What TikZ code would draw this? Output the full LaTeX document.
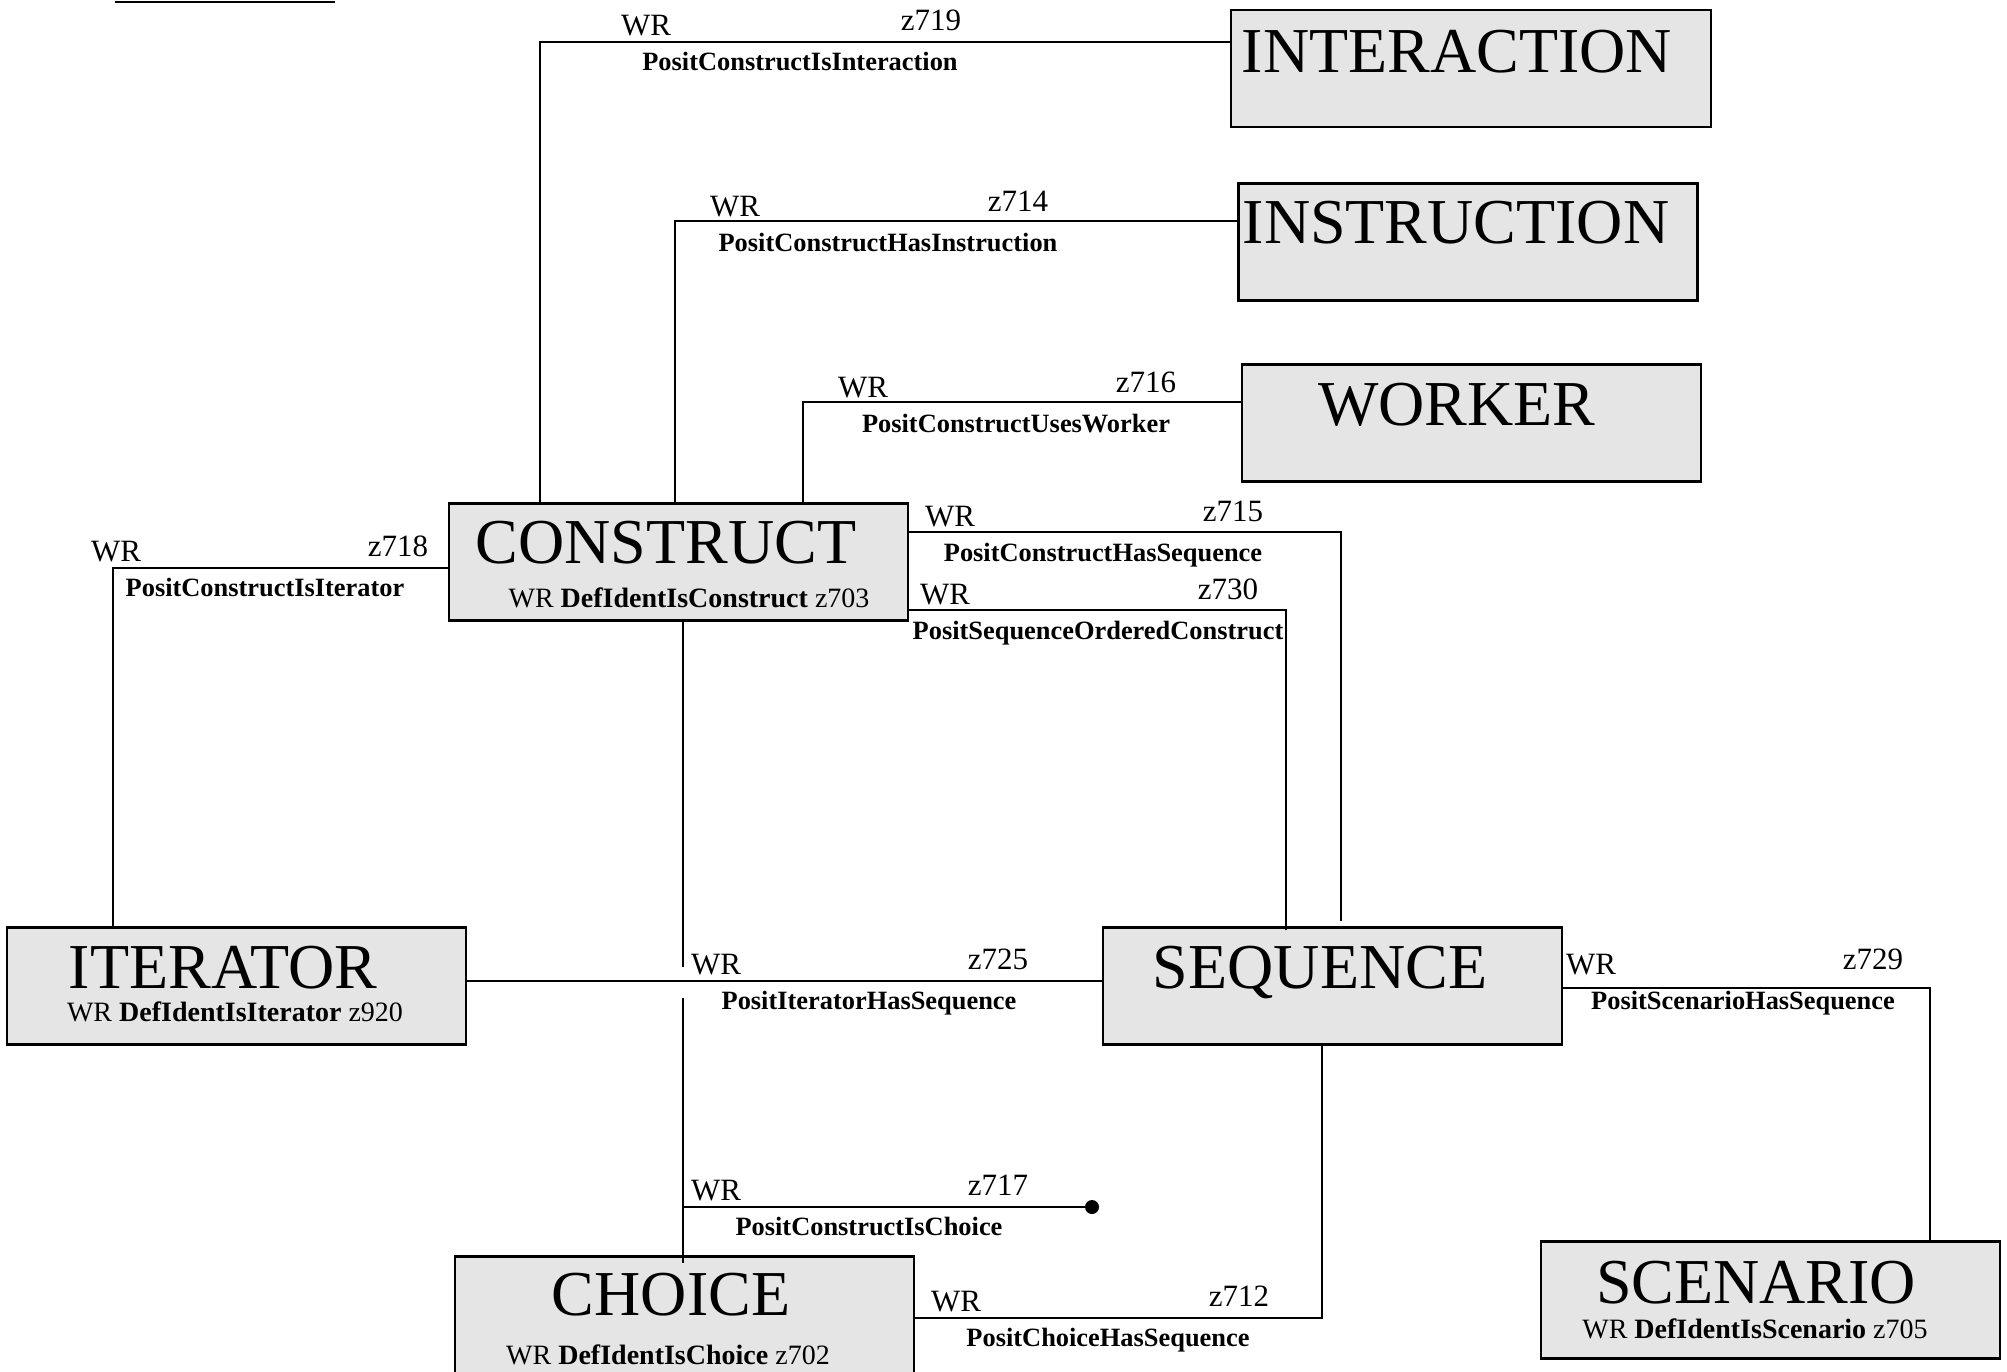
\documentclass[tikz,border=0pt]{standalone}
\usepackage{fontspec}
\setmainfont{Liberation Serif}
\usetikzlibrary{calc}

\tikzset{
  entity/.style={draw, line width=1.2pt, fill=black!10, rectangle,
    minimum width=229.5pt, minimum height=58.5pt, inner sep=0pt},
  bigname/.style={anchor=base, inner sep=0pt, font=\fontsize{32}{36}\selectfont},
  defname/.style={anchor=base, inner sep=0pt, font=\fontsize{14}{16}\selectfont},
  wrlabel/.style={anchor=base, inner sep=0pt, font=\fontsize{15.5}{18}\selectfont},
  factname/.style={anchor=base, inner sep=0pt, font=\bfseries\fontsize{13.2}{15}\selectfont},
  link/.style={line width=1pt},
}

\begin{document}
\begin{tikzpicture}[x=0.5pt, y=-0.5pt]

\useasboundingbox (0,0) rectangle (2007,1371);

% Trait en haut a gauche
\draw[link] (115,2) -- (335,2);

% Entites
\node[entity, minimum width=240pt] (interaction) at (1471,68.5) {};
\node[entity] (instruction) at (1468,242) {};
\node[entity] (worker) at (1471.5,423) {};
\node[entity] (construct) at (678.5,562) {};
\node[entity] (iterator) at (236.5,986) {};
\node[entity] (sequence) at (1332.5,986) {};
\node[entity] (choice) at (684.5,1315) {};
\node[entity] (scenario) at (1770.5,1300) {};

% Noms des entites
\node[bigname] (interactionT) at (1457,72) {INTERACTION};
\node[bigname] (instructionT) at (1456,243) {INSTRUCTION};
\node[bigname] (workerT) at (1457,425) {WORKER};
\node[bigname] (constructT) at (666,563) {CONSTRUCT};
\node[bigname] (iteratorT) at (223,988) {ITERATOR};
\node[bigname] (sequenceT) at (1320,988) {SEQUENCE};
\node[bigname] (choiceT) at (671,1315) {CHOICE};
\node[bigname] (scenarioT) at (1756,1303) {SCENARIO};

\node[defname] (constructD) at (689,607) {WR \textbf{DefIdentIsConstruct} z703};
\node[defname] (iteratorD) at (235,1021) {WR \textbf{DefIdentIsIterator} z920};
\node[defname] (choiceD) at (668,1364) {WR \textbf{DefIdentIsChoice} z702};
\node[defname] (scenarioD) at (1755,1338) {WR \textbf{DefIdentIsScenario} z705};

% Coudes des liens
\coordinate (bA) at (540,42);
\coordinate (bB) at (675,221);
\coordinate (bC) at (803,402);
\coordinate (bD) at (1341,532);
\coordinate (bE) at (1286,610);
\coordinate (bF) at (113,568);
\coordinate (bG) at (700,981);
\coordinate (bH) at (683,967);
\coordinate (bH2) at (683,998);
\coordinate (dotH) at (1092,1207);
\coordinate (bI) at (1322,1318);
\coordinate (bJ) at (1930,988);

% Liens
\draw[link] (construct.north -| bA) -- (bA) -- (bA -| interaction.west);
\draw[link] (construct.north -| bB) -- (bB) -- (bB -| instruction.west);
\draw[link] (construct.north -| bC) -- (bC) -- (bC -| worker.west);
\draw[link] (construct.east |- bD) -- (bD) -- ($(bD |- sequence.north)+(0,-5)$);
\draw[link] (construct.east |- bE) -- (bE) -- ($(bE |- sequence.north)+(0,4)$);
\draw[link] (construct.west |- bF) -- (bF) -- (bF |- iterator.north);
\draw[link] (iterator.east |- bG) -- (bG -| sequence.west);
\draw[link] ($(construct.south -| bH)+(0,-3)$) -- (bH);
\draw[link] (bH2) -- ($(bH2 |- choice.north)+(0,8)$);
\draw[link] (dotH -| bH) -- (dotH);
\fill (dotH) circle (3.5pt);
\draw[link] (choice.east |- bI) -- (bI) -- (bI |- sequence.south);
\draw[link] (sequence.east |- bJ) -- (bJ) -- (bJ |- scenario.north);

% Etiquettes des liens
\foreach \id/\wx/\zx/\nx/\ly/\zt/\fact in {
  A/646/931/800/44/z719/PositConstructIsInteraction,
  B/735/1018/888/225/z714/PositConstructHasInstruction,
  C/863/1146/1016/406/z716/PositConstructUsesWorker,
  D/950/1233/1103/535/z715/PositConstructHasSequence,
  E/945/1228/1098/613/z730/PositSequenceOrderedConstruct,
  F/116/398/265/570/z718/PositConstructIsIterator,
  G/716/998/869/983/z725/PositIteratorHasSequence,
  H/716/998/869/1209/z717/PositConstructIsChoice,
  I/956/1239/1108/1320/z712/PositChoiceHasSequence,
  J/1591/1873/1743/983/z729/PositScenarioHasSequence}
{
    \node[wrlabel] (wr\id) at (\wx,\ly-9) {WR};
    \node[wrlabel] (z\id) at (\zx,\ly-14) {\zt};
    \node[factname] (fact\id) at (\nx,\ly+26) {\fact};
}

\end{tikzpicture}
\end{document}
